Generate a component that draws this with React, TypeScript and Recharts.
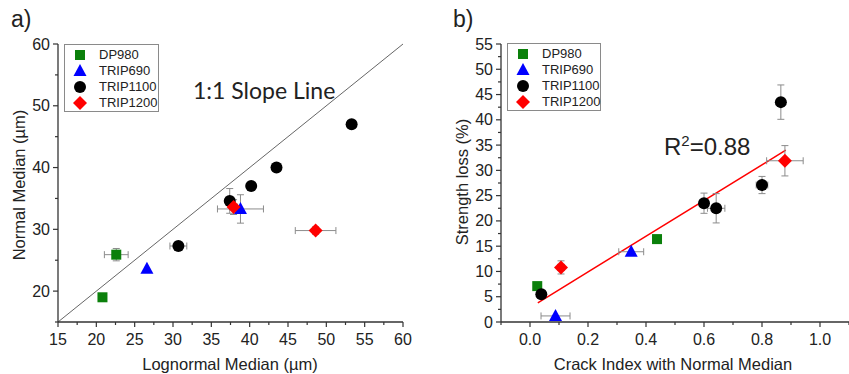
import React from 'react';
import { ScatterChart, Scatter, XAxis, YAxis, ErrorBar, ReferenceLine, Legend } from 'recharts';

const FONT = '"Liberation Sans", Arial, sans-serif';

// ---------- data ----------
const SERIES = ['DP980', 'TRIP690', 'TRIP1100', 'TRIP1200'];
const KINDS = ['square', 'triangle', 'circle', 'diamond'];

// Panel a: Lognormal median (x) vs Normal median (y), with error half-widths
const aDP980 = [
  { x: 20.8, y: 19.0, ex: 0.3, ey: 0.5 },
  { x: 22.6, y: 25.9, ex: 1.55, ey: 1.0 },
];
const aTRIP690 = [
  { x: 26.6, y: 23.6 },
  { x: 38.8, y: 33.3, ex: 3.0, ey: 2.3 },
];
const aTRIP1100 = [
  { x: 30.7, y: 27.3, ex: 1.1 },
  { x: 37.4, y: 34.6, ey: 2.0 },
  { x: 40.2, y: 37.0 },
  { x: 43.5, y: 40.0 },
  { x: 53.3, y: 47.0 },
];
const aTRIP1200 = [
  { x: 37.9, y: 33.6, ex: 0.5, ey: 1.2 },
  { x: 48.6, y: 29.8, ex: 2.65, ey: 0.6 },
];
const slopeLine = [{ x: 15, y: 15 }, { x: 60, y: 60 }];

// Panel b: Crack index with normal median (x) vs Strength loss % (y)
const bDP980 = [
  { x: 0.025, y: 7.1, ex: 0.012, ey: 0.6 },
  { x: 0.438, y: 16.4, ex: 0.015, ey: 0.5 },
];
const bTRIP690 = [
  { x: 0.088, y: 1.2, ex: 0.05 },
  { x: 0.349, y: 13.9, ex: 0.043 },
];
const bTRIP1100 = [
  { x: 0.039, y: 5.5 },
  { x: 0.600, y: 23.5, ex: 0.015, ey: 2.0 },
  { x: 0.642, y: 22.5, ex: 0.03, ey: 2.9 },
  { x: 0.800, y: 27.1, ex: 0.02, ey: 1.7 },
  { x: 0.865, y: 43.5, ey: 3.4 },
];
const bTRIP1200 = [
  { x: 0.107, y: 10.8, ex: 0.012, ey: 1.3 },
  { x: 0.879, y: 31.9, ex: 0.063, ey: 3.0 },
];
const fitLine = [{ x: 0.027, y: 3.8 }, { x: 0.882, y: 34.0 }];

// ---------- ticks ----------
const A_X_TICKS = [15, 17.5, 20, 22.5, 25, 27.5, 30, 32.5, 35, 37.5, 40, 42.5, 45, 47.5, 50, 52.5, 55, 57.5, 60];
const A_X_MAJOR = [15, 20, 25, 30, 35, 40, 45, 50, 55, 60];
const A_Y_TICKS = [15, 20, 25, 30, 35, 40, 45, 50, 55, 60];
const A_Y_MAJOR = [20, 30, 40, 50, 60];
const B_X_TICKS = [-0.1, 0, 0.1, 0.2, 0.3, 0.4, 0.5, 0.6, 0.7, 0.8, 0.9, 1.0, 1.1];
const B_X_MAJOR = [0, 0.2, 0.4, 0.6, 0.8, 1.0];
const B_Y_TICKS = [0, 2.5, 5, 7.5, 10, 12.5, 15, 17.5, 20, 22.5, 25, 27.5, 30, 32.5, 35, 37.5, 40, 42.5, 45, 47.5, 50, 52.5, 55];
const B_Y_MAJOR = [0, 5, 10, 15, 20, 25, 30, 35, 40, 45, 50, 55];

const AXIS_COLOR = '#333';
const ERR_COLOR = '#8c8c8c';
const MAJOR_LEN = 5;
const MINOR_LEN = 3;

const isIn = (v: number, arr: number[]) => arr.some((m) => Math.abs(m - v) < 1e-9);

function Marker({ kind, cx, cy }: { kind: string; cx: number; cy: number }) {
  if (cx == null || cy == null) return null;
  switch (kind) {
    case 'square':
      return <rect x={cx - 5} y={cy - 5} width={10} height={10} fill="#0b800b" />;
    case 'triangle':
      return <polygon points={`${cx},${cy - 7} ${cx + 6.5},${cy + 5} ${cx - 6.5},${cy + 5}`} fill="#0000ff" />;
    case 'circle':
      return <circle cx={cx} cy={cy} r={6} fill="#000" />;
    default:
      return <polygon points={`${cx},${cy - 7} ${cx + 7},${cy} ${cx},${cy + 7} ${cx - 7},${cy}`} fill="#ff0000" />;
  }
}

function BottomTick(props: any) {
  const { x, y, payload, majors, fmt } = props;
  const v = payload.value;
  const major = isIn(v, majors);
  return (
    <g>
      <line x1={x} x2={x} y1={y} y2={y + (major ? MAJOR_LEN : MINOR_LEN)} stroke={AXIS_COLOR} strokeWidth={1.2} />
      {major && (
        <text x={x} y={y + 23} textAnchor="middle" fontSize={16} fontFamily={FONT} fill="#222">
          {fmt(v)}
        </text>
      )}
    </g>
  );
}

function LeftTick(props: any) {
  const { x, y, payload, majors, fmt } = props;
  const v = payload.value;
  const major = isIn(v, majors);
  return (
    <g>
      <line x1={x} x2={x - (major ? MAJOR_LEN : MINOR_LEN)} y1={y} y2={y} stroke={AXIS_COLOR} strokeWidth={1.2} />
      {major && (
        <text x={x - 8} y={y + 5.5} textAnchor="end" fontSize={16} fontFamily={FONT} fill="#222">
          {fmt(v)}
        </text>
      )}
    </g>
  );
}

function LegendBox({ width }: { width: number }) {
  return (
    <div
      style={{
        width,
        height: 68,
        border: '1px solid #8a8a8a',
        boxSizing: 'border-box',
        background: '#fff',
        position: 'relative',
      }}
    >
      {SERIES.map((name, i) => (
        <div
          key={name}
          style={{ position: 'absolute', left: 0, top: 2 + i * 16, height: 16, display: 'flex', alignItems: 'center' }}
        >
          <svg width={30} height={16} style={{ display: 'block' }}>
            <Marker kind={KINDS[i]} cx={15} cy={8} />
          </svg>
          <span style={{ fontSize: 13, fontFamily: FONT, color: '#222', marginLeft: 4, lineHeight: '16px' }}>{name}</span>
        </div>
      ))}
    </div>
  );
}

function renderSeries(datasets: any[][]) {
  const markers = datasets.map((data, i) => (
    <Scatter
      key={SERIES[i]}
      name={SERIES[i]}
      data={data}
      isAnimationActive={false}
      shape={(p: any) => <Marker kind={KINDS[i]} cx={p.cx} cy={p.cy} />}
    />
  ));
  // error bars drawn over the markers, as in the original figure
  const errors = datasets.map((data, i) => (
    <Scatter
      key={SERIES[i] + '-err'}
      name={SERIES[i] + ' error'}
      legendType="none"
      data={data}
      isAnimationActive={false}
      shape={() => <g />}
    >
      <ErrorBar dataKey="ex" direction="x" width={3.5} stroke={ERR_COLOR} strokeWidth={1} />
      <ErrorBar dataKey="ey" direction="y" width={3.5} stroke={ERR_COLOR} strokeWidth={1} />
    </Scatter>
  ));
  return [...markers, ...errors];
}

const axisLine = { stroke: AXIS_COLOR, strokeWidth: 1.3 };

export default function App() {
  return (
    <div style={{ position: 'absolute', left: 0, top: 0, width: 849, height: 374, background: '#fff', overflow: 'hidden' }}>
      <div style={{ position: 'absolute', left: 0, top: 0 }}>
        <ScatterChart width={420} height={374} margin={{ top: 44, right: 17, bottom: 0, left: 0 }}>
          <XAxis
            type="number"
            dataKey="x"
            domain={[15, 60]}
            ticks={A_X_TICKS}
            interval={0}
            height={52}
            tickSize={0}
            tickMargin={0}
            tickLine={false}
            axisLine={axisLine}
            tick={(p: any) => <BottomTick {...p} majors={A_X_MAJOR} fmt={(v: number) => String(v)} />}
          />
          <YAxis
            type="number"
            dataKey="y"
            domain={[15, 60]}
            ticks={A_Y_TICKS}
            interval={0}
            width={58}
            tickSize={0}
            tickMargin={0}
            tickLine={false}
            axisLine={axisLine}
            tick={(p: any) => <LeftTick {...p} majors={A_Y_MAJOR} fmt={(v: number) => String(v)} />}
          />
          <ReferenceLine segment={slopeLine} stroke="#666" strokeWidth={1} />
          {renderSeries([aDP980, aTRIP690, aTRIP1100, aTRIP1200])}
          <Legend
            layout="vertical"
            align="center"
            verticalAlign="middle"
            wrapperStyle={{ left: 64, top: 44, width: 95, height: 68 }}
            content={() => <LegendBox width={95} />}
          />
        </ScatterChart>
      </div>
      <div style={{ position: 'absolute', left: 420, top: 0 }}>
        <ScatterChart width={429} height={374} margin={{ top: 44, right: 0, bottom: 0, left: 0 }}>
          <XAxis
            type="number"
            dataKey="x"
            domain={[-0.1, 1.1]}
            ticks={B_X_TICKS}
            interval={0}
            height={52}
            tickSize={0}
            tickMargin={0}
            tickLine={false}
            axisLine={axisLine}
            tick={(p: any) => <BottomTick {...p} majors={B_X_MAJOR} fmt={(v: number) => v.toFixed(1)} />}
          />
          <YAxis
            type="number"
            dataKey="y"
            domain={[0, 55]}
            ticks={B_Y_TICKS}
            interval={0}
            width={81}
            tickSize={0}
            tickMargin={0}
            tickLine={false}
            axisLine={axisLine}
            tick={(p: any) => <LeftTick {...p} majors={B_Y_MAJOR} fmt={(v: number) => String(v)} />}
          />
          <ReferenceLine segment={fitLine} stroke="#ff0000" strokeWidth={1.5} />
          {renderSeries([bDP980, bTRIP690, bTRIP1100, bTRIP1200])}
          <Legend
            layout="vertical"
            align="center"
            verticalAlign="middle"
            wrapperStyle={{ left: 87, top: 43, width: 94, height: 68 }}
            content={() => <LegendBox width={94} />}
          />
        </ScatterChart>
      </div>
      <svg
        width={849}
        height={374}
        style={{ position: 'absolute', left: 0, top: 0, pointerEvents: 'none' }}
        fontFamily={FONT}
        fill="#222"
      >
        <text x={11} y={27} fontSize={23}>a)</text>
        <text x={453} y={27} fontSize={23}>b)</text>
        <text x={193} y={99} fontSize={23} fontFamily="Lato, 'Open Sans', sans-serif">1:1 Slope Line</text>
        <text x={664} y={155} fontSize={24}>
          R<tspan fontSize={15} dy={-9}>2</tspan>
          <tspan dy={9}>=0.88</tspan>
        </text>
        <text x={230} y={370} fontSize={16.5} textAnchor="middle">Lognormal Median (µm)</text>
        <text x={673} y={370} fontSize={16.5} textAnchor="middle">Crack Index with Normal Median</text>
        <text x={0} y={0} fontSize={16.5} textAnchor="middle" transform="translate(25,185) rotate(-90)">Normal Median (µm)</text>
        <text x={0} y={0} fontSize={16.5} textAnchor="middle" transform="translate(468,182) rotate(-90)">Strength loss (%)</text>
      </svg>
    </div>
  );
}
